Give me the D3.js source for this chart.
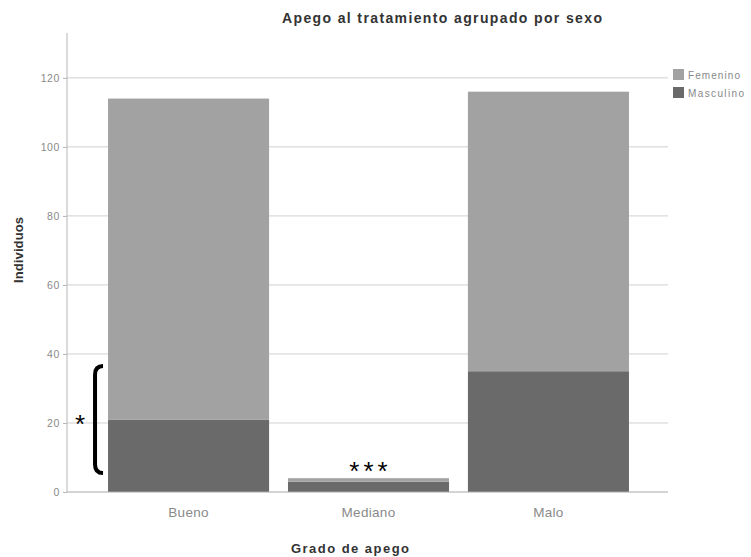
<!DOCTYPE html>
<html>
<head>
<meta charset="utf-8">
<script src="https://cdn.jsdelivr.net/npm/d3@7"></script>
<style>
  html, body { margin: 0; padding: 0; background: #fff; }
  svg { display: block; font-family: "Liberation Sans", Arial, sans-serif; }
</style>
</head>
<body>
<svg id="chart" width="751" height="557"></svg>
<script>
// Adherence grade categories and counts per sex (stacked)
const categories = ["Bueno", "Mediano", "Malo"];
const masculino = [21, 3, 35];
const femenino = [93, 1, 81];
const seriesNames = ["Femenino", "Masculino"];
const yTicks = [0, 20, 40, 60, 80, 100, 120];

const colors = { Femenino: "#a2a2a2", Masculino: "#6a6a6a" };

const svg = d3.select("#chart");

const x = d3.scaleBand()
  .domain(categories)
  .range([98.5, 638.5])
  .paddingInner(0.105)
  .paddingOuter(0.053);

const y = d3.scaleLinear().domain([0, 133]).range([492, 33]);

const plotLeft = 67, plotRight = 668;

// Gridlines
svg.append("g").selectAll("line")
  .data(yTicks.filter(d => d > 0))
  .join("line")
  .attr("x1", plotLeft).attr("x2", plotRight)
  .attr("y1", d => y(d)).attr("y2", d => y(d))
  .attr("stroke", "#d0d0d0").attr("stroke-width", 1);

// Y axis
const yAxis = svg.append("g")
  .attr("transform", `translate(${plotLeft},0)`)
  .call(d3.axisLeft(y).tickValues(yTicks).tickSize(4).tickPadding(3));
yAxis.select(".domain").attr("stroke", "#b5b5b5")
  .attr("d", `M0,${y(133)}V${y(0)}`);
yAxis.selectAll(".tick line").attr("stroke", "#b5b5b5");
yAxis.selectAll(".tick text").attr("fill", "#8a8a8a").attr("font-size", 10.5)
  .attr("letter-spacing", 0.6);

// Stacked data
const rows = categories.map((c, i) => ({ cat: c, Masculino: masculino[i], Femenino: femenino[i] }));
const stack = d3.stack().keys(["Masculino", "Femenino"]);
const layers = stack(rows);

svg.append("g").selectAll("g")
  .data(layers)
  .join("g")
  .attr("fill", d => colors[d.key])
  .selectAll("rect")
  .data(d => d)
  .join("rect")
  .attr("x", d => x(d.data.cat))
  .attr("width", x.bandwidth())
  .attr("y", d => y(d[1]))
  .attr("height", d => y(d[0]) - y(d[1]));

// X axis baseline
const xAxis = svg.append("g")
  .attr("transform", `translate(0,${y(0)})`)
  .call(d3.axisBottom(x).tickSize(0).tickPadding(15));
xAxis.select(".domain").attr("stroke", "#a8a8a8").attr("d", `M${plotLeft},0H${plotRight}`);
xAxis.selectAll(".tick text").attr("fill", "#8a8a8a").attr("font-size", 13.5)
  .attr("letter-spacing", 0.3);

// Title
svg.append("text")
  .attr("x", 442).attr("y", 23)
  .attr("text-anchor", "middle")
  .attr("font-size", 14).attr("font-weight", "bold").attr("fill", "#333")
  .attr("textLength", 320).attr("lengthAdjust", "spacing")
  .text("Apego al tratamiento agrupado por sexo");

// Axis titles
svg.append("text")
  .attr("x", 350).attr("y", 553)
  .attr("text-anchor", "middle")
  .attr("font-size", 13).attr("font-weight", "bold").attr("fill", "#333")
  .attr("textLength", 118).attr("lengthAdjust", "spacing")
  .text("Grado de apego");

svg.append("text")
  .attr("transform", `translate(23,250) rotate(-90)`)
  .attr("text-anchor", "middle")
  .attr("font-size", 13).attr("font-weight", "bold").attr("fill", "#333")
  .attr("textLength", 66).attr("lengthAdjust", "spacing")
  .text("Individuos");

// Legend
const legend = svg.append("g").attr("transform", "translate(673,69)");
seriesNames.forEach((name, i) => {
  const g = legend.append("g").attr("transform", `translate(0,${i * 18})`);
  g.append("rect").attr("width", 11).attr("height", 11).attr("fill", colors[name]);
  g.append("text").attr("x", 15).attr("y", 9.5)
    .attr("font-size", 10).attr("fill", "#888")
    .attr("textLength", name === "Femenino" ? 52 : 56).attr("lengthAdjust", "spacing")
    .text(name);
});

// Significance annotations
const bx = x("Bueno");
svg.append("path")
  .attr("d", `M${bx - 5},${y(36.5)} Q${bx - 13},${y(36.5)} ${bx - 13},${y(34)} V${y(8)} Q${bx - 13},${y(5.5)} ${bx - 5},${y(5.5)}`)
  .attr("fill", "none").attr("stroke", "#000").attr("stroke-width", 4);
svg.append("text")
  .attr("x", 80).attr("y", 433)
  .attr("text-anchor", "middle")
  .attr("font-size", 26).attr("fill", "#000")
  .text("*");
svg.append("text")
  .attr("x", x("Mediano") + x.bandwidth() / 2 + 2).attr("y", 480)
  .attr("text-anchor", "middle")
  .attr("font-size", 26).attr("letter-spacing", 4).attr("fill", "#000")
  .text("***");
</script>
</body>
</html>
